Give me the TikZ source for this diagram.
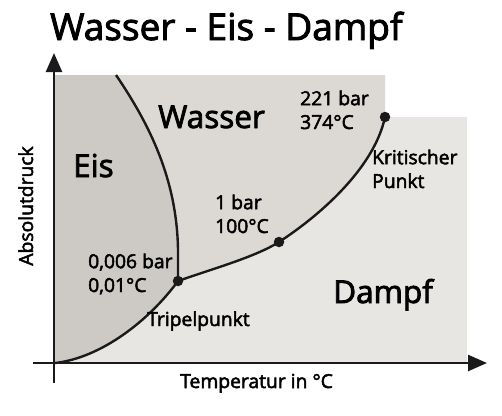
\documentclass[tikz,border=0pt]{standalone}
\usepackage{fontspec}
\setmainfont{Open Sans}
\newfontfamily\semib{Open Sans}[FakeBold=2.5]
\usetikzlibrary{arrows.meta}
\definecolor{eiscol}{HTML}{CDCAC6}
\definecolor{wassercol}{HTML}{DCD9D5}
\definecolor{dampfcol}{HTML}{E8E6E2}
\definecolor{ink}{HTML}{1A1A1A}
\begin{document}
\begin{tikzpicture}[x=1pt,y=-1pt,
  titletext/.style={font=\semib\fontsize{37}{42}\selectfont, text=black, inner sep=0pt},
  bigtext/.style={font=\semib\fontsize{31.5}{36}\selectfont, text=black, inner sep=0pt},
  smalltext/.style={font=\semib\fontsize{19.3}{23.8}\selectfont, text=black, inner sep=0pt, align=left},
  curve/.style={line width=2.4pt, draw=ink},
  axisline/.style={line width=2.5pt, draw=ink, -{Triangle[length=19pt,width=16pt]}},
  dot/.style={circle, fill=ink, inner sep=0pt, minimum size=10.5pt}
]
\useasboundingbox (0,0) rectangle (502,415);

% key points
\coordinate (O) at (55,363);
\coordinate (M) at (116,75);
\coordinate (Tp) at (178,281);
\coordinate (Bp) at (279,242);
\coordinate (Kp) at (385,117);

% regions
\fill[dampfcol] (55,117) rectangle (467,363);
\fill[wassercol] (55,75) -- (385,75) -- (Kp)
  .. controls (375,165) and (325,212) .. (Bp)
  .. controls (255,257) and (215,268) .. (Tp)
  .. controls (148,322) and (100,358) .. (O) -- cycle;
\fill[eiscol] (55,75) -- (M)
  .. controls (150,125) and (177,180) .. (178,250) -- (Tp)
  .. controls (148,322) and (100,358) .. (O) -- cycle;

% curves
\draw[curve] (O) .. controls (100,358) and (148,322) .. (Tp);
\draw[curve] (M) .. controls (150,125) and (177,180) .. (178,250) -- (Tp);
\draw[curve] (Tp) .. controls (215,268) and (255,257) .. (Bp)
  .. controls (325,212) and (375,165) .. (Kp);

% axes
\coordinate (ybot) at (54,383);
\coordinate (ytop) at (54,53);
\coordinate (xleft) at (33,363);
\coordinate (xright) at (487,363);
\draw[axisline] (ybot) -- (ytop);
\draw[axisline] (xleft) -- (xright);

% dots
\node[dot] (tripel) at (Tp) {};
\node[dot] (siede) at (Bp) {};
\node[dot] (krit) at (Kp) {};

% texts (two-line nodes: base anchor is the last line's baseline)
\node[titletext, anchor=base west] (title) at (50,40) {Wasser - Eis - Dampf};
\node[bigtext, anchor=base west] (eis) at (73,177) {Eis};
\node[bigtext, anchor=base west] (wasser) at (158,128) {Wasser};
\node[bigtext, anchor=base west] (dampf) at (333,303) {Dampf};
\node[smalltext, anchor=base west] (kritval) at (300,129) {221 bar\\374°C};
\node[smalltext, anchor=base west] (kritlab) at (372,188) {Kritischer\\Punkt};
\node[smalltext, anchor=base west] (siedeval) at (215,233) {1 bar\\100°C};
\node[smalltext, anchor=base west] (tripelval) at (88,292) {0,006 bar\\0,01°C};
\node[smalltext, anchor=base west] (tripellab) at (147,326) {Tripelpunkt};
\node[smalltext, anchor=base west] (xlab) at (180,388) {Temperatur in °C};
\node[smalltext, rotate=90, anchor=base] (ylab) at (33,206) {Absolutdruck};
\end{tikzpicture}
\end{document}
